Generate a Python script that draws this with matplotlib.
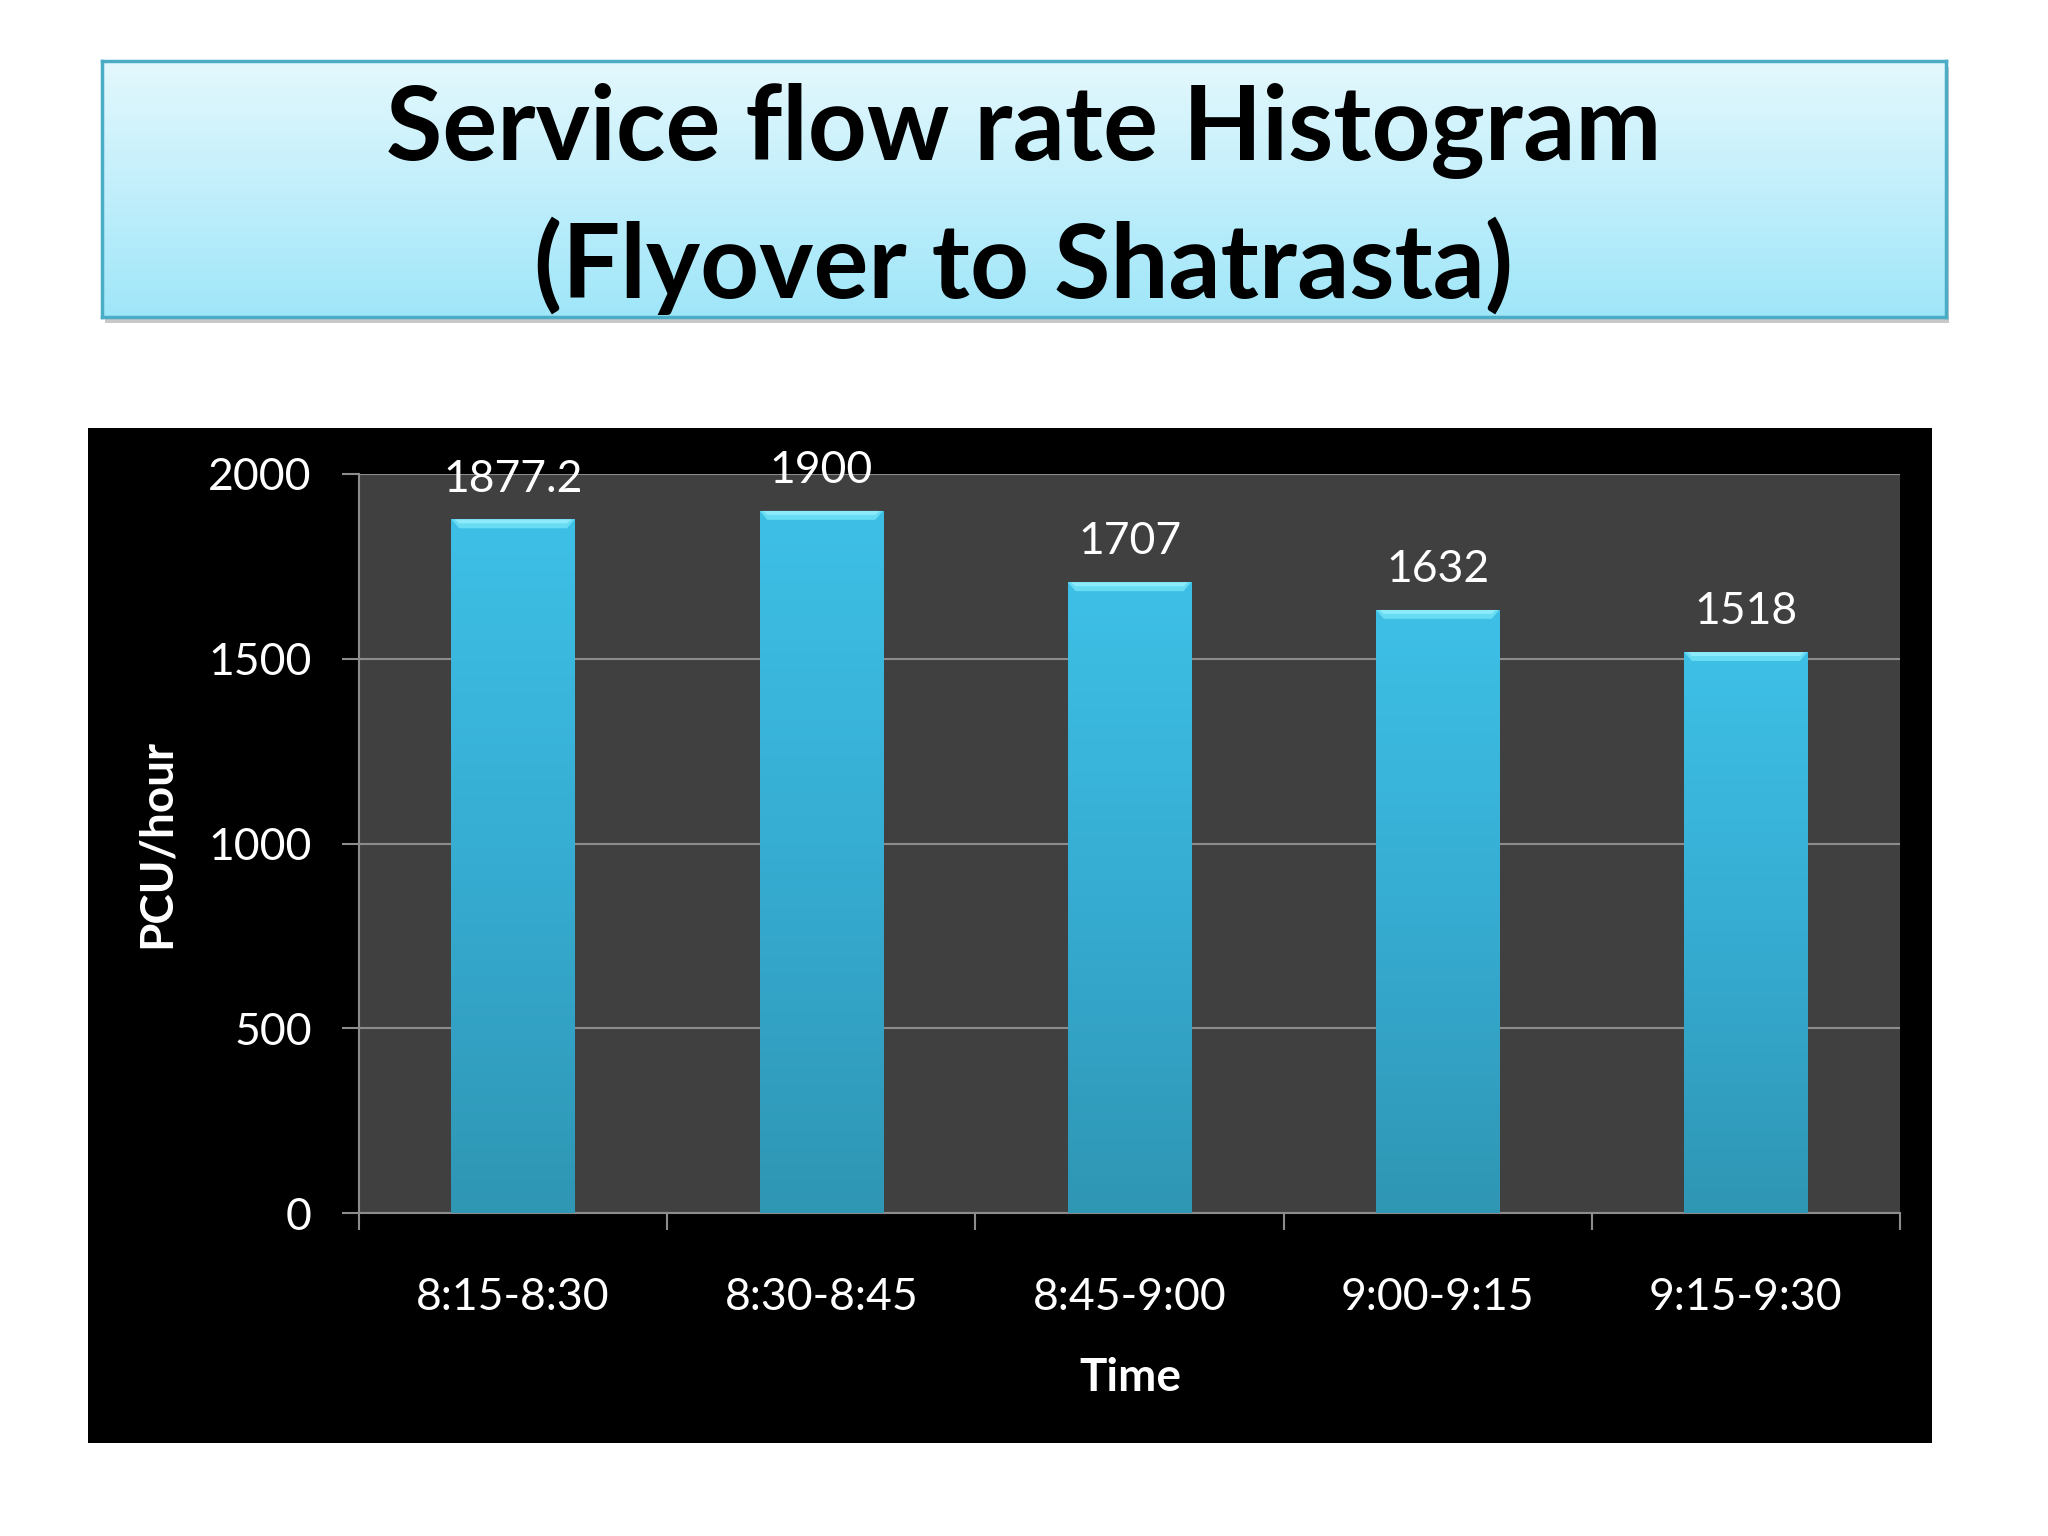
import numpy as np
import matplotlib
matplotlib.use("Agg")
import matplotlib.pyplot as plt
from matplotlib.patches import Rectangle, Polygon
from matplotlib.colors import LinearSegmentedColormap

plt.rcParams['font.family'] = ['Lato', 'DejaVu Sans']

# ---- data ----
categories = ["8:15-8:30", "8:30-8:45", "8:45-9:00", "9:00-9:15", "9:15-9:30"]
values = [1877.2, 1900, 1707, 1632, 1518]
value_labels = ["1877.2", "1900", "1707", "1632", "1518"]
yticks = [0, 500, 1000, 1500, 2000]
title_line1 = "Service flow rate Histogram"
title_line2 = "(Flyover to Shatrasta)"
xlabel = "Time"
ylabel = "PCU/hour"

W, H = 2048, 1536
fig = plt.figure(figsize=(W / 100, H / 100), dpi=100)
fig.patch.set_facecolor("white")

def fx(px):
    return px / W

def fy(py):
    return 1 - py / H

# ---- title box with gradient ----
tb_l, tb_r, tb_t, tb_b = 102, 1946, 61, 317
fig.patches.append(Rectangle((fx(tb_l + 3), fy(tb_b + 6)), fx(tb_r - tb_l), fy(tb_t) - fy(tb_b),
                             transform=fig.transFigure, facecolor="#c8c8c8", edgecolor="none",
                             zorder=-10))
tax = fig.add_axes([fx(tb_l), fy(tb_b), fx(tb_r - tb_l), fy(tb_t) - fy(tb_b)])
tcmap = LinearSegmentedColormap.from_list("tb", ["#e4f8fd", "#9fe6f9"])
tax.imshow(np.linspace(0, 1, 256).reshape(-1, 1), aspect="auto", cmap=tcmap,
           extent=[0, 1, 0, 1], origin="upper")
tax.set_xlim(0, 1)
tax.set_ylim(0, 1)
tax.set_xticks([])
tax.set_yticks([])
for s in tax.spines.values():
    s.set_edgecolor("#4bacc6")
    s.set_linewidth(2.5)
fig.text(0.5 * (fx(tb_l) + fx(tb_r)), fy(160), title_line1, ha="center", va="baseline",
         fontsize=74, fontweight="bold", color="black")
fig.text(0.5 * (fx(tb_l) + fx(tb_r)), fy(298), title_line2, ha="center", va="baseline",
         fontsize=74, fontweight="bold", color="black")

# ---- black chart panel ----
fig.patches.append(Rectangle((fx(88), fy(1443)), fx(1932 - 88), fy(428) - fy(1443),
                             transform=fig.transFigure, facecolor="black", edgecolor="none",
                             zorder=-10))

# ---- plot axes ----
ax_l, ax_r, ax_t, ax_b = 359, 1900, 474, 1213
ax = fig.add_axes([fx(ax_l), fy(ax_b), fx(ax_r - ax_l), fy(ax_t) - fy(ax_b)])
ax.set_facecolor("#404040")
x = np.arange(len(categories))
bw = 0.4
bars = ax.bar(x, values, width=bw, color="#38b2d8", edgecolor="none", zorder=3)

bcmap = LinearSegmentedColormap.from_list("bar", ["#3ec0e6", "#36acd2", "#2f96b4"])
grad = np.linspace(0, 1, 256).reshape(-1, 1)
bev_h = 24      # bevel height in data units
bev_in = 0.025  # bevel inset in category units
for b in bars:
    bx, by, bwid, bh = b.get_x(), b.get_y(), b.get_width(), b.get_height()
    im = ax.imshow(grad, aspect="auto", cmap=bcmap, origin="upper",
                   extent=[bx, bx + bwid, by, by + bh], zorder=4)
    im.set_clip_path(b)
    top = by + bh
    ax.add_patch(Polygon([(bx, top), (bx + bwid, top), (bx + bwid - bev_in, top - bev_h),
                          (bx + bev_in, top - bev_h)], closed=True,
                         facecolor="#68dcf3", edgecolor="none", zorder=5))
    ax.add_patch(Polygon([(bx + 0.01, top), (bx + bwid - 0.01, top),
                          (bx + bwid - bev_in, top - bev_h * 0.45),
                          (bx + bev_in, top - bev_h * 0.45)], closed=True,
                         facecolor="#8ceafa", edgecolor="none", zorder=5))
ax.set_xlim(-0.5, len(categories) - 0.5)
ax.set_ylim(0, 2000)

for xi, v, lab in zip(x, values, value_labels):
    ax.annotate(lab, (xi, v), xytext=(0, 29), textcoords="offset points",
                ha="center", va="center", fontsize=32, color="white", zorder=6,
                annotation_clip=False)

ax.set_yticks(yticks)
ax.set_yticklabels([str(t) for t in yticks])
ax.yaxis.grid(True, color="#8c8c8c", linewidth=1.5, zorder=1)
ax.set_axisbelow(True)
ax.set_xticks(np.arange(-0.5, len(categories), 1.0))
ax.set_xticklabels([])
ax.set_xticks(x, minor=True)
ax.set_xticklabels(categories, minor=True)
ax.tick_params(axis="x", which="major", direction="out", length=12, width=1.5,
               color="#8c8c8c")
ax.tick_params(axis="x", which="minor", length=0, pad=46, labelsize=32,
               labelcolor="white")
ax.tick_params(axis="y", direction="out", length=12, width=1.5, color="#8c8c8c",
               labelsize=32, labelcolor="white", pad=22)
for side in ["top", "right"]:
    ax.spines[side].set_visible(False)
for side in ["left", "bottom"]:
    ax.spines[side].set_color("#8c8c8c")
    ax.spines[side].set_linewidth(1.5)

fig.text(fx(1130), fy(1378), xlabel, ha="center", va="center", fontsize=33,
         fontweight="bold", color="white")
fig.text(fx(157), fy(843), ylabel, ha="center", va="center", fontsize=33,
         fontweight="bold", color="white", rotation=90)

fig.savefig("out.png", dpi=100, facecolor="white")
